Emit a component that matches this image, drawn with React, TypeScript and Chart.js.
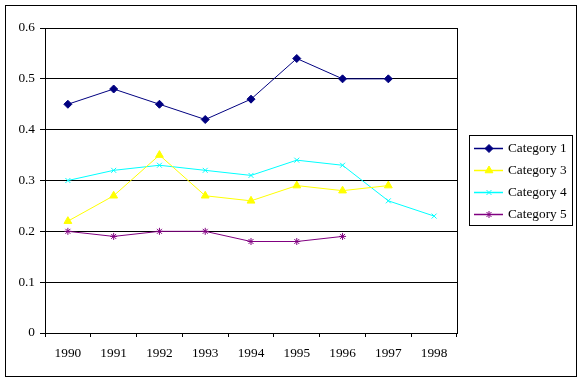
import React, { useEffect, useRef } from "react";
import { Chart, registerables } from "chart.js";

Chart.register(...registerables);

const years = ["1990", "1991", "1992", "1993", "1994", "1995", "1996", "1997", "1998"];
const category1 = [0.45, 0.48, 0.45, 0.42, 0.46, 0.54, 0.5, 0.5, null];
const category3 = [0.22, 0.27, 0.35, 0.27, 0.26, 0.29, 0.28, 0.29, null];
const category4 = [0.3, 0.32, 0.33, 0.32, 0.31, 0.34, 0.33, 0.26, 0.23];
const category5 = [0.2, 0.19, 0.2, 0.2, 0.18, 0.18, 0.19, null, null];
const seriesNames = ["Category 1", "Category 3", "Category 4", "Category 5"];
const seriesColors = ["#000080", "#FFFF00", "#00FFFF", "#800080"];
const seriesMarkers = ["rectRot", "triangle", "crossRot", "star"];
const seriesRadii = [4, 4.5, 3.5, 3.5];

const FONT = "'Liberation Serif', 'Times New Roman', serif";

let drawPointFn: any = () => {};

const framePlugin = {
  id: "framePlugin",
  afterDraw(chart: any) {
    const ctx = chart.ctx;
    const a = chart.chartArea;
    ctx.save();
    ctx.strokeStyle = "#000";
    ctx.lineWidth = 1;
    // outer border
    ctx.strokeRect(5.5, 5.5, 571, 371);
    // plot area right border
    ctx.beginPath();
    ctx.moveTo(Math.round(a.right) + 0.5, Math.round(a.top));
    ctx.lineTo(Math.round(a.right) + 0.5, Math.round(a.bottom) + 1);
    ctx.stroke();
    // legend
    const lx = 469, ly = 135, lw = 103, lh = 90;
    ctx.fillStyle = "#fff";
    ctx.fillRect(lx, ly, lw, lh);
    ctx.strokeRect(lx + 0.5, ly + 0.5, lw, lh);
    const rows = [148, 170, 192, 214];
    chart.data.datasets.forEach((ds: any, i: number) => {
      const y = rows[i] + 0.5;
      ctx.strokeStyle = ds.borderColor;
      ctx.lineWidth = 1.5;
      ctx.beginPath();
      ctx.moveTo(474, y);
      ctx.lineTo(503, y);
      ctx.stroke();
      ctx.lineWidth = 1;
      ctx.fillStyle = ds.pointBackgroundColor;
      ctx.strokeStyle = ds.pointBorderColor;
      drawPointFn(ctx, { pointStyle: ds.pointStyle, radius: ds.pointRadius }, 489, y);
      ctx.fillStyle = "#000";
      ctx.font = "13.3px " + FONT;
      ctx.textBaseline = "middle";
      ctx.textAlign = "left";
      ctx.fillText(ds.label, 508, y);
    });
    ctx.restore();
  },
};

export default function App() {
  const ref = useRef<HTMLCanvasElement | null>(null);
  useEffect(() => {
    document.body.style.margin = "0";
    drawPointFn = (ctx: any, opts: any, x: number, y: number) => {
      const pe: any = (Chart as any).registry.getElement("point");
      const p = new pe({ x, y });
      p.options = {
        pointStyle: opts.pointStyle,
        radius: opts.radius,
        rotation: 0,
        borderWidth: 1,
        backgroundColor: ctx.fillStyle,
        borderColor: ctx.strokeStyle,
        hitRadius: 0,
      };
      p.draw(ctx);
    };
    const values = [category1, category3, category4, category5];
    const chart = new Chart(ref.current as HTMLCanvasElement, {
      type: "line",
      data: {
        labels: years,
        datasets: values.map((v, i) => ({
          label: seriesNames[i],
          data: v,
          borderColor: seriesColors[i],
          backgroundColor: seriesColors[i],
          pointBackgroundColor: seriesColors[i],
          pointBorderColor: seriesColors[i],
          pointStyle: seriesMarkers[i] as any,
          pointRadius: seriesRadii[i],
          pointBorderWidth: 1,
          borderWidth: 1,
          tension: 0,
          spanGaps: false,
          fill: false,
        })),
      },
      options: {
        responsive: false,
        animation: false,
        devicePixelRatio: 1,
        layout: { padding: { top: 28, right: 126, left: 0, bottom: 0 } },
        plugins: { legend: { display: false }, tooltip: { enabled: false } },
        scales: {
          x: {
            offset: true,
            grid: {
              offset: true,
              drawOnChartArea: false,
              drawTicks: true,
              tickLength: 4,
              color: "#000",
            },
            border: { color: "#000", width: 1 },
            ticks: {
              color: "#000",
              font: { family: FONT, size: 13.3 },
              padding: 9,
              maxRotation: 0,
              autoSkip: false,
            },
            afterFit(scale: any) {
              scale.height = 50;
            },
          },
          y: {
            min: 0,
            max: 0.6,
            grid: { color: "#000", tickLength: 5, drawTicks: true },
            border: { color: "#000", width: 1 },
            ticks: {
              stepSize: 0.1,
              color: "#000",
              font: { family: FONT, size: 13.3 },
              padding: 5,
              callback: (v: any) => String(Math.round(Number(v) * 10) / 10),
            },
            afterFit(scale: any) {
              scale.width = 45;
            },
          },
        },
      },
      plugins: [framePlugin],
    });
    return () => chart.destroy();
  }, []);
  return (
    <div style={{ width: 583, height: 383, background: "#fff" }}>
      <canvas ref={ref} width={583} height={383} style={{ display: "block" }} />
    </div>
  );
}
